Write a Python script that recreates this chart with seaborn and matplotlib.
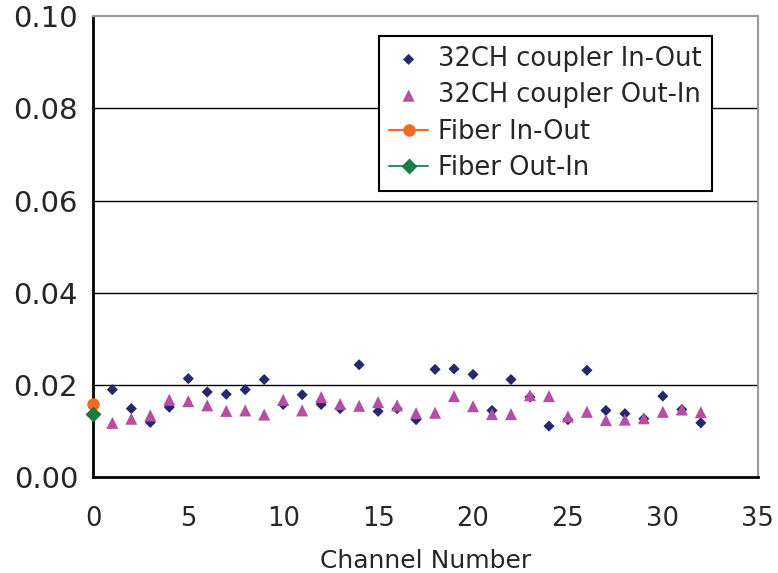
import matplotlib
matplotlib.use("Agg")
import matplotlib.pyplot as plt
from matplotlib.ticker import MultipleLocator
import seaborn as sns
import pandas as pd

channels = list(range(1, 33))
in_out = [0.0190, 0.0149, 0.0119, 0.0152, 0.0214, 0.0185, 0.0180, 0.0190,
          0.0212, 0.0158, 0.0179, 0.0158, 0.0149, 0.0244, 0.0143, 0.0149,
          0.0125, 0.0234, 0.0235, 0.0223, 0.0145, 0.0212, 0.0174, 0.0111,
          0.0125, 0.0232, 0.0145, 0.0138, 0.0127, 0.0176, 0.0147, 0.0118]
out_in = [0.0118, 0.0127, 0.0134, 0.0168, 0.0165, 0.0156, 0.0144, 0.0145,
          0.0136, 0.0168, 0.0145, 0.0174, 0.0159, 0.0155, 0.0163, 0.0156,
          0.0139, 0.0140, 0.0176, 0.0154, 0.0137, 0.0137, 0.0178, 0.0176,
          0.0132, 0.0142, 0.0124, 0.0125, 0.0128, 0.0142, 0.0147, 0.0141]
fiber_channel = [0]
fiber_in_out = [0.0158]
fiber_out_in = [0.0137]

df = pd.DataFrame({"channel": channels, "in_out": in_out, "out_in": out_in})
fib = pd.DataFrame({"channel": fiber_channel, "in_out": fiber_in_out,
                    "out_in": fiber_out_in})

sns.set_style("white")
plt.rcParams["font.family"] = ["DejaVu Sans"]

fig, ax = plt.subplots(figsize=(7.78, 5.73), dpi=100)
fig.subplots_adjust(left=0.12, right=0.974, top=0.972, bottom=0.167)

for y in [0.02, 0.04, 0.06, 0.08]:
    ax.axhline(y, color="black", lw=1.0, zorder=0)

sns.scatterplot(data=df, x="channel", y="in_out", marker="D", s=32,
                color="#27276f", edgecolor="none", ax=ax,
                label="32CH coupler In-Out", zorder=3)
sns.scatterplot(data=df, x="channel", y="out_in", marker="^", s=75,
                color="#b64ea6", edgecolor="none", ax=ax,
                label="32CH coupler Out-In", zorder=3)
sns.lineplot(data=fib, x="channel", y="in_out", marker="o", markersize=9,
             color="#f26a21", markeredgecolor="none", ax=ax,
             label="Fiber In-Out", zorder=4, clip_on=False)
sns.lineplot(data=fib, x="channel", y="out_in", marker="D", markersize=8,
             color="#2f8a82", markerfacecolor="#1d7a42",
             markeredgecolor="none", ax=ax, label="Fiber Out-In", zorder=4,
             clip_on=False)

ax.set_xlim(0, 35)
ax.set_ylim(0, 0.10)
ax.xaxis.set_major_locator(MultipleLocator(5))
ax.xaxis.set_minor_locator(MultipleLocator(1))
ax.yaxis.set_major_locator(MultipleLocator(0.02))
ax.yaxis.set_minor_locator(MultipleLocator(0.004))
ax.yaxis.set_major_formatter(matplotlib.ticker.FormatStrFormatter("%.2f"))

ax.tick_params(axis="both", which="both", direction="in", color="black",
               width=1.5)
ax.tick_params(axis="x", which="major", length=8, labelsize=18.5, pad=21)
ax.tick_params(axis="x", which="minor", length=6)
ax.tick_params(axis="y", which="major", length=0, labelsize=21, pad=11)
ax.tick_params(axis="y", which="minor", length=7)

for side in ["left", "bottom"]:
    ax.spines[side].set_color("black")
    ax.spines[side].set_linewidth(2)
for side in ["top", "right"]:
    ax.spines[side].set_color("#9a9a9a")
    ax.spines[side].set_linewidth(1.5)

ax.set_xlabel("Channel Number", fontsize=18, labelpad=12)
ax.set_ylabel("")

leg = ax.legend(loc="upper left", bbox_to_anchor=(0.43, 0.957), fontsize=18.5,
                frameon=True, fancybox=False, framealpha=1, edgecolor="black",
                handlelength=1.5, handletextpad=0.4, borderpad=0.4,
                labelspacing=0.4, borderaxespad=0)
leg.get_frame().set_linewidth(1.5)

plt.savefig("out.png", dpi=100)
